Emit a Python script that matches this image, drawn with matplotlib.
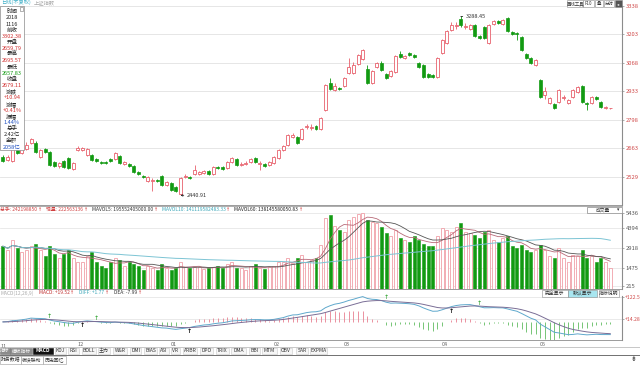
import matplotlib
matplotlib.use('Agg')
import matplotlib.pyplot as plt
import numpy as np
import pandas as pd
from matplotlib.patches import Rectangle
from matplotlib.lines import Line2D

plt.rcParams['font.family'] = ['Noto Sans CJK SC', 'DejaVu Sans']

# ---------------- data ----------------
opens = [2623,2609,2604,2656,2642,2659.79,2689,2689,2623,2661,
         2646,2599,2580,2604,2618,2566,2656,2656,2632,2632,
         2613,2599,2597,2613,2613,2627,2590,2590,2580,2552,
         2533,2509,2509,2514,2533,2490,2500,2481,2446,2528,
         2528,2542,2542,2547,2556,2542,2575,2575,2571,2599,
         2613,2585,2590,2599,2618,2590,2590,2585,2594,2618,
         2656,2680,2717,2717,2708,2765,2760,2770,2755,2845,
         2973,2940,2950,2959,3021,3021,3063,3087,3040,2973,
         3049,3068,3016,3006,3025,3111,3092,3115,3106,3068,
         3059,3016,3011,3002,3115,3163,3224,3243,3276,3239,
         3229,3248,3196,3239,3163,3253,3267,3253,3281,3215,
         3210,3191,3111,3092,3059,2987,2916,2879,2874,2883,
         2902,2879,2907,2931,2959,2879,2879,2907,2883,2855,
         2853]
closes = [2604,2623,2661,2642,2661,2679.11,2708,2646,2656,2646,
          2585,2580,2594,2575,2571,2594,2665,2665,2661,2609,
          2604,2594,2595,2604,2642,2594,2599,2580,2552,2542,
          2528,2528,2514,2509,2490,2504,2466,2462,2523,2533,
          2523,2561,2552,2556,2542,2575,2571,2566,2599,2618,
          2585,2590,2594,2613,2599,2594,2580,2599,2623,2656,
          2675,2727,2727,2689,2755,2770,2765,2755,2807,2964,
          2945,2959,2945,2997,3049,3059,3106,3130,2973,3030,
          3068,3035,2997,3030,3101,3096,3101,3106,3096,3049,
          3002,3002,3002,3092,3177,3220,3248,3248,3248,3243,
          3248,3196,3186,3186,3248,3267,3257,3272,3220,3205,
          3205,3130,3092,3068,3082,2907,2935,2902,2855,2940,
          2907,2893,2940,2954,2883,2874,2907,2897,2860,2860,
          2855]
highs = [2632,2632,2665,2665,2670,2695.57,2713,2699,2661,2665,
         2651,2604,2599,2609,2623,2599,2675,2670,2665,2637,
         2618,2604,2604,2618,2646,2632,2604,2594,2585,2556,
         2538,2533,2523,2519,2538,2509,2504,2485,2528,2542,
         2533,2585,2556,2561,2561,2580,2580,2580,2604,2623,
         2618,2599,2604,2618,2623,2604,2594,2604,2627,2661,
         2680,2731,2736,2722,2760,2779,2779,2774,2812,2968,
         2997,2973,2954,3002,3092,3073,3111,3135,3059,3035,
         3073,3078,3021,3035,3106,3125,3106,3120,3111,3073,
         3063,3021,3016,3096,3182,3224,3262,3262,3288.45,3257,
         3253,3253,3200,3243,3253,3272,3272,3276,3286,3220,
         3215,3196,3115,3096,3087,2992,2954,2907,2879,2945,
         2916,2897,2945,2959,2964,2883,2912,2912,2888,2864,
         2857]
lows = [2599,2604,2599,2637,2637,2657.83,2684,2642,2618,2642,
        2580,2575,2571,2571,2566,2561,2651,2651,2627,2604,
        2599,2590,2590,2599,2609,2590,2585,2575,2547,2538,
        2523,2504,2462,2504,2485,2485,2462,2457,2440.91,2523,
        2519,2538,2538,2542,2538,2538,2566,2561,2566,2594,
        2580,2580,2585,2594,2594,2561,2575,2580,2590,2613,
        2651,2675,2713,2684,2703,2755,2751,2751,2751,2840,
        2940,2935,2940,2954,3016,3016,3059,3082,2968,2968,
        3045,3030,2992,3002,3021,3092,3087,3101,3092,3045,
        2997,2997,2997,2997,3111,3158,3220,3229,3239,3229,
        3224,3191,3182,3182,3158,3248,3253,3248,3215,3200,
        3177,3125,3087,3063,3054,2902,2897,2874,2850,2879,
        2893,2874,2902,2926,2879,2845,2874,2893,2855,2850,
        2851]
volumes = [3075,2789,3504,2932,2646,2789,3075,3218,2789,2360,3075,2503,2217,2503,2789,2217,1931,1931,
           2360,2646,1931,1645,1502,1931,2217,2074,1645,1931,1788,1645,1359,1645,1502,1359,1788,1502,1359,1502,
           1931,1573,1502,1573,1573,1430,1502,1573,1645,1502,1788,1931,1502,1502,1359,1645,1788,1502,1430,1573,1645,1931,
           1931,2217,1859,2217,2431,1931,2074,2217,3146,
           5077,5291,4505,4219,4076,4934,5148,5363,5434,
           4934,4791,4719,4433,4004,3790,4219,3647,3504,3361,3790,3504,3218,3075,3075,
           3790,4362,4219,4076,4433,4719,4076,4004,3861,3647,4076,4219,3504,3361,3647,3790,3075,2932,3146,2789,
           2646,2789,3146,2789,2360,2217,2932,2217,1931,2431,2360,2789,2217,2360,1931,2217,1931,1502]

price_ticks = [2529, 2663, 2798, 2933, 3068, 3203, 3338]
vol_ticks = [215, 1475, 2918, 4394, 5436]
macd_ticks = [14.28, 122.5]
macd_tick_labels = ['+14.28', '+122.5']
month_pos = [16, 36, 58, 73, 94, 115]
month_labels = ['12', '01', '02', '03', '04', '05']
high_label = '3288.45'
low_label = '2440.91'

info_rows = [('时间', '#222222'), ('2018', '#222222'), ('1116', '#222222'),
             ('前收', '#222222'), ('3302.38', '#D03030'),
             ('开盘', '#222222'), ('2659.79', '#D03030'),
             ('最高', '#222222'), ('2695.57', '#D03030'),
             ('最低', '#222222'), ('2657.83', '#119911'),
             ('收盘', '#222222'), ('2679.11', '#D03030'),
             ('涨跌', '#222222'), ('+10.94', '#D03030'),
             ('涨幅', '#222222'), ('+0.41%', '#D03030'),
             ('振幅', '#222222'), ('1.44%', '#2050C0'),
             ('总手', '#222222'), ('2.42亿', '#222222'),
             ('金额', '#222222'), ('2058亿', '#2050C0')]

vol_header = [('总手: 242198850', '#D04040'), ('现量: 222563136', '#D04040'),
              ('MAVOL5: 195552405000.00', '#333333'), ('MAVOL10: 141119582483.33', '#3AA6B8'),
              ('MAVOL60: 138145580050.83', '#222222')]
macd_header = [('MACD(12,26,9)', '#AAAAAA', False), ('MACD: +19.52', '#C03030', True),
               ('DIFF: +1.77', '#3AA6B8', True), ('DEA: -7.99', '#333333', True)]

tabs = ['指标', '模板指标', 'MACD', 'KDJ', 'RSI', 'BOLL', '主力', 'W&R', 'DMI', 'BIAS', 'ASI', 'VR',
        'ARBR', 'DPO', 'TRIX', 'DMA', 'BBI', 'MTM', 'OBV', 'SAR', 'EXPMA']
tab_x = [(0, 10), (10, 32), (33, 53), (55, 66), (68, 79), (82, 96), (98, 110), (113, 127), (130, 141),
         (144, 157), (159, 169), (171, 180), (183, 197), (200, 213), (216, 229), (231, 246), (249, 260),
         (262, 277), (280, 292), (296, 308), (310, 327)]

# ---------------- helpers ----------------
W, H = 640, 365
fig = plt.figure(figsize=(6.4, 3.65), dpi=100)
fig.patch.set_facecolor('white')
renderer = fig.canvas.get_renderer()


def rect(x0, y0, x1, y1):
    return [x0 / W, 1 - y1 / H, (x1 - x0) / W, (y1 - y0) / H]


def fx(px):
    return px / W


def fy(py):
    return 1 - py / H


def ftext(px, py, s, color='#333333', size=4.0, ha='left', **kw):
    return fig.text(fx(px), fy(py), s, color=color, fontsize=size, ha=ha, va='center', **kw)


def text_right(t):
    bb = t.get_window_extent(renderer=renderer)
    return bb.x1


def box(x0, y0, x1, y1, fc='white', ec='#9A9A9A', lw=0.5, z=3):
    fig.add_artist(Rectangle((fx(x0), fy(y1)), fx(x1) - fx(x0), fy(y0) - fy(y1),
                             transform=fig.transFigure, facecolor=fc, edgecolor=ec, lw=lw, zorder=z))


def hline(py, x0, x1, color='#9A9A9A', lw=0.6):
    fig.add_artist(Line2D([fx(x0), fx(x1)], [fy(py), fy(py)], transform=fig.transFigure,
                          color=color, lw=lw, zorder=3))


RED = '#E8606C'
PINK = '#F0A0A8'
GREEN = '#129A12'
GRID = '#E2E2E2'
SPINE = '#8C8C8C'

o = np.array(opens, float)
c = np.array(closes, float)
hi = np.array(highs, float)
lo = np.array(lows, float)
v = np.array(volumes, float)
x = np.arange(len(c))
up = c >= o
XL = (-0.64, 132.5)
bw = 0.64


def style_ax(a, bottom=True, lsize=4.2):
    a.set_xlim(*XL)
    a.set_facecolor('white')
    for s in ['left', 'top']:
        a.spines[s].set_visible(False)
    a.spines['right'].set_color(SPINE)
    a.spines['right'].set_linewidth(0.8)
    a.spines['bottom'].set_color(SPINE)
    a.spines['bottom'].set_linewidth(0.6)
    a.spines['bottom'].set_visible(bottom)
    a.yaxis.tick_right()
    a.tick_params(axis='y', length=1.5, width=0.5, color=SPINE, pad=1, labelsize=lsize)
    a.set_xticks([])


# ---------------- main price panel ----------------
ax = fig.add_axes(rect(0, 6, 622, 205))
style_ax(ax)
ax.set_ylim(2395.3, 3338)
ax.set_yticks(price_ticks)
ax.set_yticklabels([str(t) for t in price_ticks], color='#D04848')
ax.grid(axis='y', color=GRID, lw=0.6)
ax.set_axisbelow(True)
ax.vlines(x, lo, hi, colors=np.where(up, RED, GREEN), linewidth=0.6, zorder=2)
bh = np.maximum(np.abs(c - o), 0.6)
bb = np.minimum(o, c)
ax.bar(x[up], bh[up], bottom=bb[up], width=bw, facecolor='white', edgecolor=RED, linewidth=0.6, zorder=3)
ax.bar(x[~up], bh[~up], bottom=bb[~up], width=bw, facecolor=GREEN, edgecolor=GREEN, linewidth=0.5, zorder=3)

ih = int(np.argmax(hi))
il = int(np.argmin(lo))
ax.annotate(high_label, xy=(ih, hi[ih]), xytext=(ih + 1.0, hi[ih]), fontsize=4, color='#333333',
            va='center', ha='left', arrowprops=dict(arrowstyle='-', lw=0.6, color='#222222',
                                                     shrinkA=0, shrinkB=0))
ax.annotate(low_label, xy=(il, lo[il]), xytext=(il + 1.3, lo[il]), fontsize=4, color='#333333',
            va='center', ha='left', arrowprops=dict(arrowstyle='->', lw=0.5, color='#222222',
                                                     shrinkA=0, shrinkB=0, mutation_scale=3))

# ---------------- volume panel ----------------
av = fig.add_axes(rect(0, 213, 622, 289))
style_ax(av)
av.set_ylim(0, 5460)
av.set_yticks(vol_ticks)
av.set_yticklabels([str(t) for t in vol_ticks], color='#555555')
av.grid(axis='y', color=GRID, lw=0.5)
av.set_axisbelow(True)
av.bar(x[up], v[up], width=bw, facecolor='white', edgecolor=PINK, linewidth=0.6, zorder=2)
av.bar(x[~up], v[~up], width=bw, facecolor=GREEN, edgecolor=GREEN, linewidth=0.4, zorder=2)
vs = pd.Series(v)
av.plot(x, vs.rolling(5, min_periods=1).mean(), color='#B86A78', lw=0.6, zorder=3)
av.plot(x, vs.rolling(10, min_periods=1).mean(), color='#555555', lw=0.6, zorder=3)
av.plot(x, vs.rolling(60, min_periods=1).mean(), color='#7CC4D4', lw=0.7, zorder=3)

# ---------------- MACD panel ----------------
am = fig.add_axes(rect(0, 296, 622, 340))
style_ax(am, lsize=3.7)
am.set_ylim(-89, 127.4)
am.set_yticks(macd_ticks)
am.set_yticklabels(macd_tick_labels, color='#D04848')
am.tick_params(axis='y', pad=0.6)
am.grid(axis='y', color=GRID, lw=0.5)
am.set_axisbelow(True)
cs = pd.Series(c)
diff = cs.ewm(span=12, adjust=False).mean() - cs.ewm(span=26, adjust=False).mean()
dea = diff.ewm(span=9, adjust=False).mean()
hist = 2 * (diff - dea)
hv = hist.values
am.vlines(x, 0, hv, colors=np.where(hv >= 0, '#E88090', '#60BC60'), linewidth=0.6, zorder=2)
am.plot(x, diff.values, color='#5FA8CC', lw=0.7, zorder=3)
am.plot(x, dea.values, color='#7A6E96', lw=0.7, zorder=3)
d = (diff - dea).values
for i in range(1, len(d)):
    if d[i - 1] < 0 <= d[i]:
        am.text(i, min(diff[i], dea[i]) - 6, '↑', color='#111111', fontsize=4.5, ha='center', va='top',
                fontweight='bold', family='DejaVu Sans', zorder=4)
    elif d[i - 1] >= 0 > d[i]:
        am.text(i, max(diff[i], dea[i]) + 2, '↑', color='#1A9A1A', fontsize=4.5, ha='center', va='bottom',
                family='DejaVu Sans', zorder=4)

am.set_xticks(month_pos)
am.set_xticklabels(month_labels, color='#666666', fontsize=4, ha='left')
am.tick_params(axis='x', length=0, pad=1.2)
am.text(0.2 / 622, -0.1, '11', transform=am.transAxes, fontsize=4, color='#666666',
        ha='left', va='top', clip_on=False)

# ---------------- chrome / texts ----------------
t0 = ftext(1, 2.5, '日线(不复权)', color='#40B0C8', size=3.8)
ftext(text_right(t0) + 3, 2.5, '上证指数', color='#A8A8A8', size=3.8)
for (bx0, bx1, lab, fc, tc) in [(567, 583, '画线工具', 'white', '#333333'), (583, 594, 'F10', 'white', '#333333'),
                                (595, 603, '叠', 'white', '#333333'), (604, 614, '分时', 'white', '#333333'),
                                (615, 622, '◂', '#555555', 'white')]:
    box(bx0, 0, bx1, 7, fc=fc, ec='#8A8A8A', lw=0.4)
    ftext((bx0 + bx1) / 2, 3.6, lab, color=tc, size=3.2, ha='center', zorder=5)

# info box
box(0, 6, 23.5, 150, fc='white', ec='#8A8A8A', lw=0.5, z=4)
row_y = 11.7
for lab, col in info_rows:
    ftext(11.8, row_y, lab, color=col, size=4.0, ha='center', zorder=6)
    row_y += 6.15
box(20, 7.5, 23, 10.5, fc='white', ec='#777777', lw=0.4, z=5)

# volume header (each item followed by a red arrow)
hline(205.5, 0, 622, color='#A0A0A0', lw=0.6)
px = 0.5
for s, col in vol_header:
    t = ftext(px, 209.3, s, color=col, size=3.5)
    r = text_right(t)
    a = fig.text(r / W + 0.6 / W, fy(209.3), '↑', color='#D03030', fontsize=3.5, ha='left', va='center',
                 family='DejaVu Sans')
    px = text_right(a) + 4.0
box(587, 206.5, 622, 213, fc='white', ec='#8A8A8A', lw=0.5)
ftext(603, 209.8, '成交量', color='#333333', size=3.4, ha='center', zorder=5)
ftext(618.5, 209.8, '▾', color='#333333', size=3.4, ha='center', zorder=5, family='DejaVu Sans')

# MACD header
px = 0.5
for s, col, arrow in macd_header:
    t = ftext(px, 293, s, color=col, size=3.5)
    r = text_right(t)
    if arrow:
        a = fig.text(r / W + 0.6 / W, fy(293), '↑', color='#D03030', fontsize=3.5, ha='left', va='center',
                     family='DejaVu Sans')
        r = text_right(a)
    px = r + 5.0

for (bx0, bx1, lab, fc) in [(542, 568, '完全显示', 'white'), (568, 597, '默认显示', '#A8E6F0'),
                            (599, 619, '指标说明', 'white')]:
    box(bx0, 289.5, bx1, 297, fc=fc, ec='#8A8A8A', lw=0.4)
    ftext((bx0 + bx1) / 2, 293.4, lab, color='#333333', size=3.5, ha='center', zorder=5)

# bottom tabs
hline(347, 0, 640, color='#B0B0B0', lw=0.5)
hline(354.5, 0, 640, color='#707070', lw=0.7)
for lab, (tx0, tx1) in zip(tabs, tab_x):
    if lab == 'MACD':
        box(tx0, 347.5, tx1, 354, fc='#111111', ec='#111111', lw=0.4)
        ftext((tx0 + tx1) / 2, 351, lab, color='white', size=3.6, ha='center', zorder=5, fontweight='bold')
    elif tx0 < 33:
        box(tx0, 347.5, tx1, 354, fc='#8C8C8C', ec='#777777', lw=0.4)
        ftext((tx0 + tx1) / 2, 351, lab, color='white', size=3.4, ha='center', zorder=5)
    else:
        box(tx0, 347.5, tx1, 354, fc='#F6F6F6', ec='#C8C8C8', lw=0.4)
        ftext((tx0 + tx1) / 2, 351, lab, color='#333333', size=3.6, ha='center', zorder=5)
for (bx0, bx1, lab) in [(0, 21, '财务数据'), (21, 43, '板块联动'), (43, 66, '历史回忆')]:
    box(bx0, 355.5, bx1, 364, fc='white', ec='#9A9A9A', lw=0.4)
    ftext((bx0 + bx1) / 2, 359.5, lab, color='#333333', size=3.5, ha='center', zorder=5)
ftext(634, 358.5, '⇟', color='#333333', size=5, ha='center', family='DejaVu Sans')

fig.savefig('out.png', dpi=100, facecolor='white')
